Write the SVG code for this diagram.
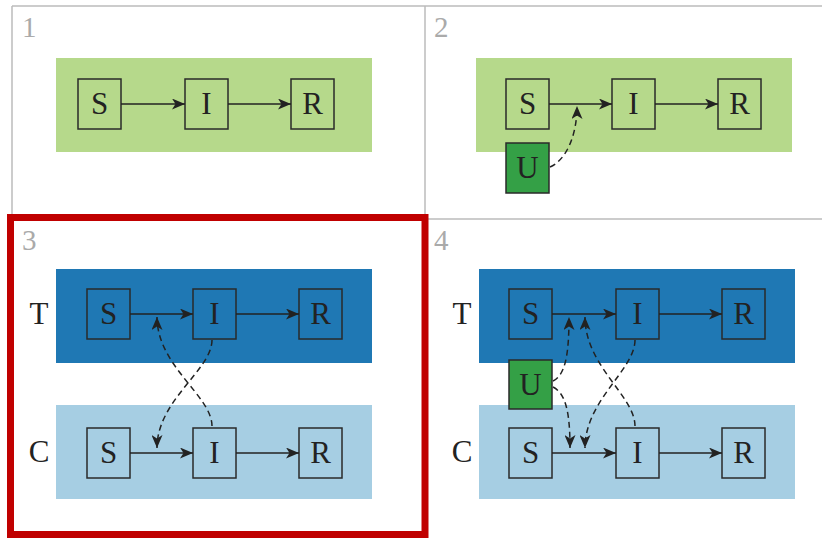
<svg xmlns="http://www.w3.org/2000/svg" width="822" height="538" viewBox="0 0 822 538">
<style>
text{font-family:"Liberation Serif","DejaVu Serif",serif;fill:#222}
.num{font-size:29px;fill:#aaa}
.lbl{font-size:31px;text-anchor:middle}
.box{stroke:#2a2a2a;stroke-width:1.5}
.g1{fill:#b6d98b}
.tb{fill:#1f78b4}
.cb{fill:#a6cee3}
.u{fill:#34a046}
.grid{stroke:#bbb;stroke-width:1.5;fill:none}
.arr{stroke:#222;stroke-width:1.5;fill:none;marker-end:url(#ah)}
.dash{stroke:#222;stroke-width:1.5;fill:none;stroke-dasharray:6,4;marker-end:url(#ah)}
</style>
<defs>
<marker id="ah" viewBox="0 0 13 11" refX="13" refY="5.5" markerWidth="13" markerHeight="11" markerUnits="userSpaceOnUse" orient="auto">
<path d="M0,0 L13,5.5 L0,11 L3.5,5.5 z" fill="#222" stroke="none"/>
</marker>
</defs>
<rect width="822" height="538" fill="#fff"/>
<g id="grid">
<line class="grid" x1="12" y1="6" x2="822" y2="6"/>
<line class="grid" x1="12" y1="6" x2="12" y2="219"/>
<line class="grid" x1="425" y1="6" x2="425" y2="538"/>
<line class="grid" x1="12" y1="219" x2="822" y2="219"/>
</g>
<g id="panel-numbers">
<text class="num" x="22" y="37">1</text>
<text class="num" x="434" y="37">2</text>
<text class="num" x="22" y="250">3</text>
<text class="num" x="434" y="250">4</text>
</g>
<g id="backgrounds">
<rect class="g1" x="56" y="58" width="316" height="94"/>
<rect class="g1" x="476" y="58" width="316" height="94"/>
<rect class="tb" x="56" y="269" width="316" height="94"/>
<rect class="cb" x="56" y="405" width="316" height="94"/>
<rect class="tb" x="479" y="269" width="316" height="94"/>
<rect class="cb" x="479" y="405" width="316" height="94"/>
</g>
<g id="row-labels">
<text class="lbl" x="39" y="324">T</text>
<text class="lbl" x="39" y="462">C</text>
<text class="lbl" x="462" y="324">T</text>
<text class="lbl" x="462" y="462">C</text>
</g>
<!-- panel 1 -->
<g id="p1-S"><rect class="box g1" x="78" y="79" width="43" height="50"/><text class="lbl" x="99.5" y="114.2">S</text></g>
<g id="p1-I"><rect class="box g1" x="185" y="79" width="43" height="50"/><text class="lbl" x="206.5" y="114.2">I</text></g>
<g id="p1-R"><rect class="box g1" x="291" y="79" width="43" height="50"/><text class="lbl" x="312.5" y="114.2">R</text></g>
<!-- panel 2 -->
<g id="p2-S"><rect class="box g1" x="506" y="79" width="43" height="50"/><text class="lbl" x="527.5" y="114.2">S</text></g>
<g id="p2-I"><rect class="box g1" x="612" y="79" width="43" height="50"/><text class="lbl" x="633.5" y="114.2">I</text></g>
<g id="p2-R"><rect class="box g1" x="718" y="79" width="43" height="50"/><text class="lbl" x="739.5" y="114.2">R</text></g>
<g id="p2-U"><rect class="box u" x="506" y="143" width="43" height="50"/><text class="lbl" x="527.5" y="178.2">U</text></g>
<!-- panel 3 -->
<g id="p3-TS"><rect class="box tb" x="87" y="289" width="43" height="50"/><text class="lbl" x="108.5" y="324.2">S</text></g>
<g id="p3-TI"><rect class="box tb" x="193" y="289" width="43" height="50"/><text class="lbl" x="214.5" y="324.2">I</text></g>
<g id="p3-TR"><rect class="box tb" x="299" y="289" width="43" height="50"/><text class="lbl" x="320.5" y="324.2">R</text></g>
<g id="p3-CS"><rect class="box cb" x="87" y="428" width="43" height="50"/><text class="lbl" x="108.5" y="463.2">S</text></g>
<g id="p3-CI"><rect class="box cb" x="193" y="428" width="43" height="50"/><text class="lbl" x="214.5" y="463.2">I</text></g>
<g id="p3-CR"><rect class="box cb" x="299" y="428" width="43" height="50"/><text class="lbl" x="320.5" y="463.2">R</text></g>
<!-- panel 4 -->
<g id="p4-TS"><rect class="box tb" x="509" y="289" width="43" height="50"/><text class="lbl" x="530.5" y="324.2">S</text></g>
<g id="p4-TI"><rect class="box tb" x="616" y="289" width="43" height="50"/><text class="lbl" x="637.5" y="324.2">I</text></g>
<g id="p4-TR"><rect class="box tb" x="722" y="289" width="43" height="50"/><text class="lbl" x="743.5" y="324.2">R</text></g>
<g id="p4-CS"><rect class="box cb" x="509" y="428" width="43" height="50"/><text class="lbl" x="530.5" y="463.2">S</text></g>
<g id="p4-CI"><rect class="box cb" x="616" y="428" width="43" height="50"/><text class="lbl" x="637.5" y="463.2">I</text></g>
<g id="p4-CR"><rect class="box cb" x="722" y="428" width="43" height="50"/><text class="lbl" x="743.5" y="463.2">R</text></g>
<g id="p4-U"><rect class="box u" x="509" y="360" width="43" height="49"/><text class="lbl" x="530.5" y="394.7">U</text></g>
<g id="connectors">
<line class="arr" x1="121" y1="104" x2="185" y2="104"/>
<line class="arr" x1="228" y1="104" x2="291" y2="104"/>
<line class="arr" x1="549" y1="104" x2="612" y2="104"/>
<line class="arr" x1="655" y1="104" x2="718" y2="104"/>
<path class="dash" d="M550,167 C566,160 577,136 577,106"/>
<line class="arr" x1="130" y1="314" x2="193" y2="314"/>
<line class="arr" x1="236" y1="314" x2="299" y2="314"/>
<line class="arr" x1="130" y1="453" x2="193" y2="453"/>
<line class="arr" x1="236" y1="453" x2="299" y2="453"/>
<path class="dash" d="M212,340 C212,370 157,400 157,448"/>
<path class="dash" d="M212,426 C212,396 157,366 157,317"/>
<line class="arr" x1="552" y1="314" x2="616" y2="314"/>
<line class="arr" x1="659" y1="314" x2="722" y2="314"/>
<line class="arr" x1="552" y1="453" x2="616" y2="453"/>
<line class="arr" x1="659" y1="453" x2="722" y2="453"/>
<path class="dash" d="M553,381 C565,375 569,356 569,317"/>
<path class="dash" d="M553,387 C565,393 570,410 570,448"/>
<path class="dash" d="M635,340 C635,370 585,400 585,448"/>
<path class="dash" d="M635,426 C635,396 585,366 585,317"/>
</g>
<rect id="highlight" x="10.5" y="217.5" width="414.5" height="317" fill="none" stroke="#c00000" stroke-width="7"/>
</svg>
